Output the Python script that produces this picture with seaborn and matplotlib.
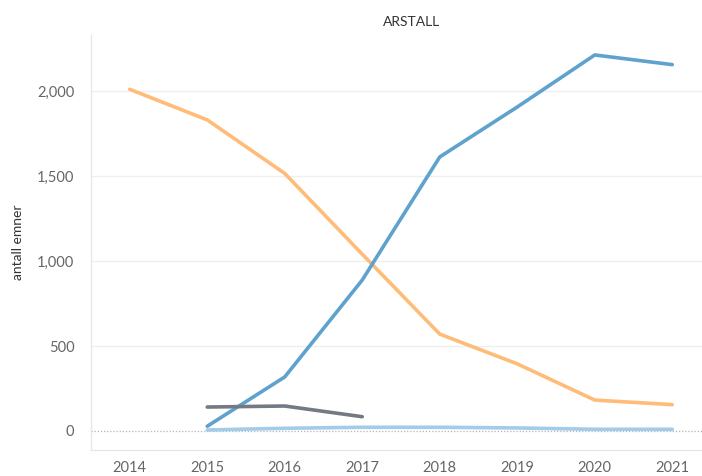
import matplotlib
matplotlib.use("Agg")
import matplotlib.pyplot as plt
import seaborn as sns
import pandas as pd
import numpy as np
from matplotlib.ticker import FuncFormatter, FixedLocator

years = [2014, 2015, 2016, 2017, 2018, 2019, 2020, 2021]
orange_vals = [2010, 1830, 1515, 1040, 570, 395, 182, 155]
blue_years = [2015, 2016, 2017, 2018, 2019, 2020, 2021]
blue_vals = [28, 318, 888, 1612, 1906, 2212, 2155]
gray_years = [2015, 2016, 2017]
gray_vals = [141, 147, 84]
lightblue_years = [2015, 2016, 2017, 2018, 2019, 2020, 2021]
lightblue_vals = [6, 16, 22, 22, 18, 10, 10]

series_names = ["A", "B", "C", "D"]
colors = ["#ffbc79", "#5fa2ce", "#737a84", "#a3cce9"]

df = pd.concat([
    pd.DataFrame({"year": years, "value": orange_vals, "s": series_names[0]}),
    pd.DataFrame({"year": blue_years, "value": blue_vals, "s": series_names[1]}),
    pd.DataFrame({"year": gray_years, "value": gray_vals, "s": series_names[2]}),
    pd.DataFrame({"year": lightblue_years, "value": lightblue_vals, "s": series_names[3]}),
])

sns.set_style("white")
plt.rcParams["font.family"] = ["Lato", "DejaVu Sans"]

fig = plt.figure(figsize=(7.02, 4.76), dpi=100)
W, H = 702, 476
left, right, top, bottom = 91, 702, 35, 450
ax = fig.add_axes([left / W, 1 - bottom / H, (right - left) / W, (bottom - top) / H])

# zero line
ax.axhline(0, color="#b5b5b5", lw=0.9, ls=(0, (1, 1.5)), zorder=1)
for v in [500, 1000, 1500, 2000]:
    ax.axhline(v, color="#efefef", lw=0.9, zorder=0)

sns.lineplot(data=df, x="year", y="value", hue="s", hue_order=series_names,
             palette=dict(zip(series_names, colors)), lw=2.6, legend=False,
             ax=ax, zorder=3)

band = 77.5
ax.set_xlim(2013.5, 2013.5 + (right - left) / band)
ax.set_ylim(-(bottom - 431) / 0.17, (431 - top) / 0.17)

ax.set_xticks(years)
ax.set_xticklabels([str(y) for y in years])
ax.xaxis.set_minor_locator(FixedLocator([2013.5 + k for k in range(9)]))
ax.tick_params(axis="x", which="major", length=0, pad=8, labelsize=10.5, labelcolor="#666666")
ax.tick_params(axis="x", which="minor", length=8, color="#e6e6e6", width=0.9)
ax.set_yticks([0, 500, 1000, 1500, 2000])
ax.yaxis.set_major_formatter(FuncFormatter(lambda v, p: f"{int(v):,}"))
ax.tick_params(axis="y", length=0, pad=12, labelsize=10.5, labelcolor="#666666")

for sp in ["top", "right"]:
    ax.spines[sp].set_visible(False)
ax.spines["left"].set_color("#e6e6e6")
ax.spines["bottom"].set_color("#e6e6e6")
ax.spines["left"].set_linewidth(0.9)
ax.spines["bottom"].set_linewidth(0.9)
ax.spines["left"].set_bounds(ax.get_ylim()[0], ax.get_ylim()[1])

ax.set_xlabel("")
ax.set_ylabel("antall emner", fontsize=10, color="#333333")
ax.yaxis.set_label_coords(-(left - 18) / (right - left), 0.5)
ax.yaxis.label.set_va("center")

fig.text(412 / W, 1 - 22 / H, "ARSTALL", ha="center", va="center", fontsize=10, color="#333333")

fig.savefig("out.png", dpi=100)
